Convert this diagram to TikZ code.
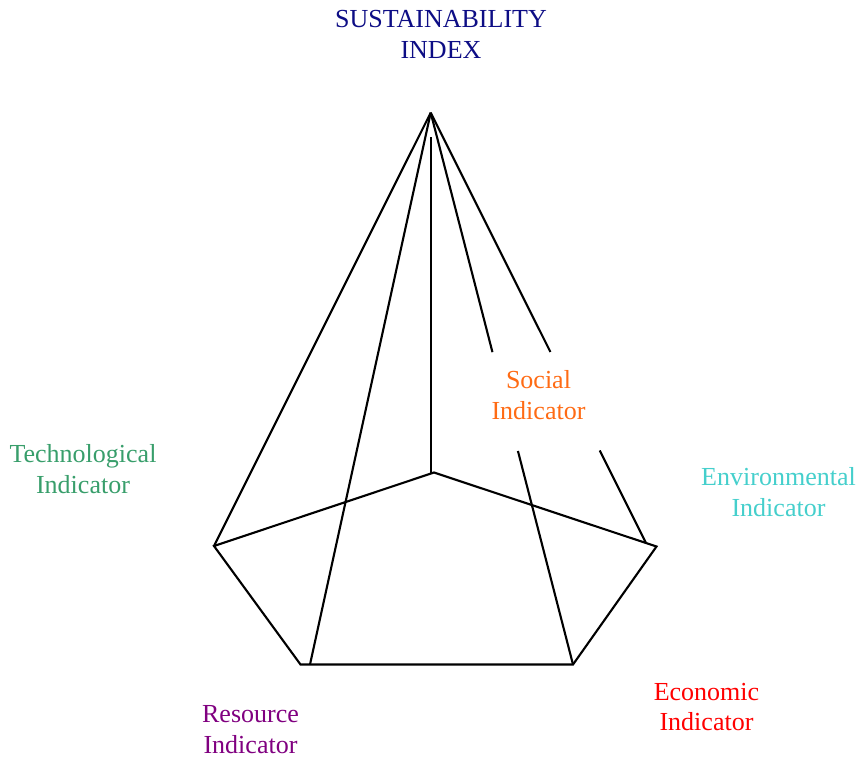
\documentclass[tikz,border=0pt]{standalone}
\usepackage{fontspec}
\setmainfont{Liberation Serif}
\usepackage{tikz}
\usetikzlibrary{calc}
\usetikzlibrary{positioning}
\tikzset{edge/.style = {line width = 1.2pt, line join = miter}}
\tikzset{label/.style = {align = center, inner sep = 0, font = \fontsize{14.8}{17.6}\selectfont}}
\definecolor{mnavy}{rgb}{0.05, 0.05, 0.52}
\definecolor{morange}{rgb}{1, 0.42, 0.08}
\definecolor{mgreen}{rgb}{0.22, 0.62, 0.42}
\definecolor{mturq}{rgb}{0.27, 0.81, 0.80}
\definecolor{mred}{rgb}{1, 0, 0}
\definecolor{mpurple}{rgb}{0.5, 0, 0.5}

\begin{document}
\begin{tikzpicture}[x=0.02cm, y=-0.02cm]
      \useasboundingbox (0, 0) rectangle (862, 758);

      % pyramid corners
      \coordinate (apex) at (430.7, 112.7);
      \coordinate (top) at (430.7, 137);
      \coordinate (foot) at (430.7, 473);
      \coordinate (back) at (434, 472.5);
      \coordinate (left) at (214, 546);
      \coordinate (right) at (656.5, 546.5);
      \coordinate (frontl) at (300.5, 664.5);
      \coordinate (frontr) at (573, 664.5);
      \coordinate (edgel) at (310, 664.5);
      \coordinate (edger) at (646, 543);

      \draw [edge] (left) -- (back) -- (right) -- (frontr) -- (frontl) -- cycle;
      \draw [edge] (apex) -- (left);
      \draw [edge] (apex) -- (edgel);
      \draw [edge] (top) -- (foot);
      \draw [edge] (apex) -- ($(apex)!0.434!(frontr)$);
      \draw [edge] ($(apex)!0.613!(frontr)$) -- (frontr);
      \draw [edge] (apex) -- ($(apex)!0.556!(edger)$);
      \draw [edge] ($(apex)!0.785!(edger)$) -- (edger);

      \node [label, text=mnavy] (index) at (441, 34.5) {SUSTAINABILITY\\INDEX};
      \node [label, text=morange] (social) at (538.5, 395.5) {Social\\Indicator};
      \node [label, text=mgreen] (techno) at (83, 469) {Technological\\Indicator};
      \node [label, text=mturq] (environ) at (778.5, 492) {Environmental\\Indicator};
      \node [label, text=mred] (econ) at (706.5, 707) {Economic\\Indicator};
      \node [label, text=mpurple] (resource) at (250.5, 730) {Resource\\Indicator};
    \end{tikzpicture}
\end{document}
